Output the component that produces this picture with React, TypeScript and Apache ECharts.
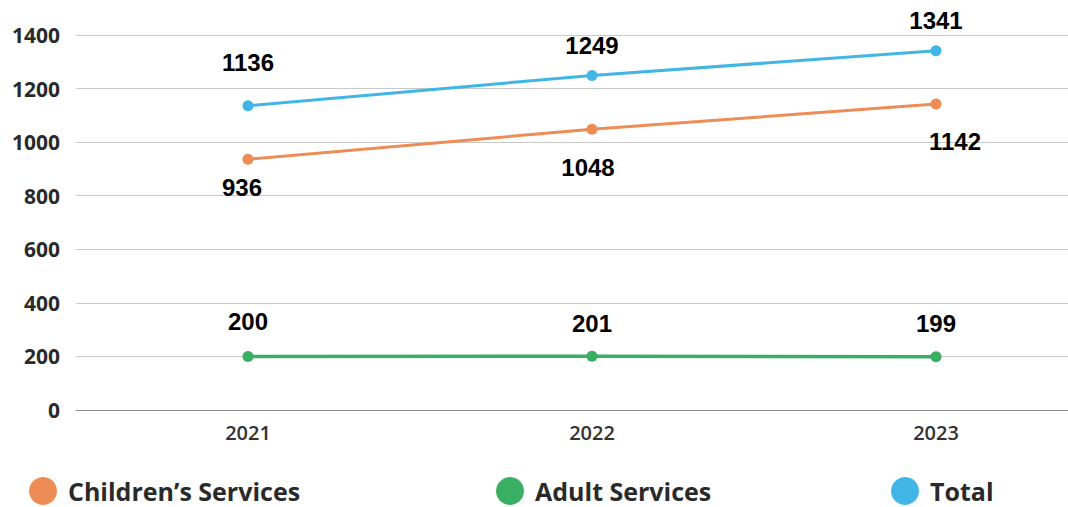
import React, { useEffect, useRef } from "react";
import * as echarts from "echarts";

const years = ["2021", "2022", "2023"];
const childrens = [936, 1048, 1142];
const adults = [200, 201, 199];
const totals = [1136, 1249, 1341];
const yTicks = [0, 200, 400, 600, 800, 1000, 1200, 1400];

const seriesNames = ["Children\u2019s Services", "Adult Services", "Total"];
const colors = ["#EE8C55", "#3AAE62", "#41B6E6"];

// label distances per point (style only)
const childDist = [11, 21, 20];
const childDx = [-6, -4, 19];
const adultDist = [17, 15, 16];
const totalDist = [26, 12, 13];

export default function App() {
  const ref = useRef<HTMLDivElement>(null);
  useEffect(() => {
    const chart = echarts.init(ref.current!, null, { renderer: "svg" });
    const labelStyle = {
      show: true,
      fontFamily: "Liberation Sans",
      fontWeight: "bold" as const,
      fontSize: 24,
      color: "#000",
    };
    chart.setOption({
      animation: false,
      grid: { left: 76, right: 0, top: 35, bottom: 97 },
      xAxis: {
        type: "category",
        data: years,
        boundaryGap: true,
        axisLine: { show: true, lineStyle: { color: "#8a8a8a", width: 1 } },
        axisTick: { show: false },
        axisLabel: {
          fontFamily: "Open Sans",
          fontWeight: 600,
          fontSize: 20,
          color: "#333",
          margin: 12,
        },
      },
      yAxis: {
        type: "value",
        min: yTicks[0],
        max: yTicks[yTicks.length - 1],
        interval: 200,
        axisLine: { show: false },
        axisTick: { show: false },
        splitLine: { lineStyle: { color: "#c8c8c8", width: 1 } },
        axisLabel: {
          fontFamily: "Open Sans",
          fontWeight: 700,
          fontSize: 21,
          color: "#2a2a2a",
          margin: 16,
          formatter: (v: number) => String(v),
        },
      },
      legend: seriesNames.map((n, i) => ({
        data: [n],
        left: [24, 491, 886][i],
        top: 475,
        padding: [2, 5, 0, 5],
        icon: "circle",
        itemWidth: 28,
        itemHeight: 28,
        textStyle: {
          fontFamily: "Open Sans",
          fontWeight: "bold",
          fontSize: 25,
          lineHeight: 26,
          color: "#2a2a2a",
          padding: [0, 0, 0, 6],
        },
      })),
      series: [
        {
          name: seriesNames[0],
          type: "line",
          data: childrens.map((v, i) => ({
            value: v,
            label: { position: "bottom", distance: childDist[i], offset: [childDx[i], 0] },
          })),
          color: colors[0],
          lineStyle: { width: 3 },
          symbol: "circle",
          symbolSize: 11,
          label: labelStyle,
        },
        {
          name: seriesNames[1],
          type: "line",
          data: adults.map((v, i) => ({
            value: v,
            label: { position: "top", distance: adultDist[i] },
          })),
          color: colors[1],
          lineStyle: { width: 3.5 },
          symbol: "circle",
          symbolSize: 11,
          label: labelStyle,
        },
        {
          name: seriesNames[2],
          type: "line",
          data: totals.map((v, i) => ({
            value: v,
            label: { position: "top", distance: totalDist[i] },
          })),
          color: colors[2],
          lineStyle: { width: 3 },
          symbol: "circle",
          symbolSize: 11,
          label: labelStyle,
        },
      ],
    });
    return () => chart.dispose();
  }, []);
  return (
    <div
      style={{ position: "absolute", left: 0, top: 0, width: 1068, height: 507, overflow: "hidden", background: "#fff" }}
    >
      <div ref={ref} style={{ width: 1108, height: 507 }} />
    </div>
  );
}
